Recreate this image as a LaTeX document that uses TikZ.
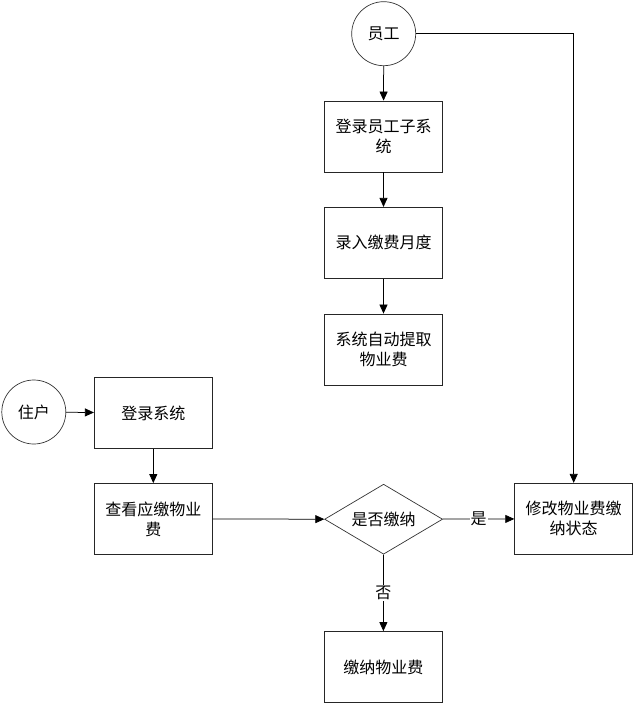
\documentclass[tikz,border=0pt]{standalone}
\usepackage{fontspec}
\newfontfamily\cjk{Noto Sans CJK SC}
\usetikzlibrary{arrows.meta,shapes.geometric}
\begin{document}
\begin{tikzpicture}[x=1pt,y=-1pt,
  every node/.style={font=\cjk\fontsize{16}{20}\selectfont, align=center, inner sep=0pt},
  procbox/.style={draw=black!85, line width=0.8pt, minimum width=118pt, minimum height=71pt},
  actor/.style={draw=black!80, line width=0.7pt, circle, minimum size=64pt},
  decision/.style={draw=black!80, line width=0.7pt, diamond, aspect=1.69, minimum width=118pt, minimum height=70pt},
  flow/.style={draw=black, line width=0.75pt, -{Triangle[length=9pt,width=8pt]}},
  lbl/.style={fill=white, inner sep=1pt}]
\useasboundingbox (0,0) rectangle (634,704);
\node[actor] (emp) at (383.7,33.7) {员工};
\node[procbox] (login1) at (383.5,136.5) {登录员工子系\\统};
\node[procbox] (month) at (383.5,242.8) {录入缴费月度};
\node[procbox] (auto) at (383.5,349.5) {系统自动提取\\物业费};
\node[actor] (res) at (33.8,412) {住户};
\node[procbox] (login2) at (153.3,413) {登录系统};
\node[procbox] (view) at (153.3,519) {查看应缴物业\\费};
\node[decision] (dec) at (383.6,519.2) {是否缴纳};
\node[procbox] (modify) at (573.7,518.8) {修改物业费缴\\纳状态};
\node[procbox] (pay) at (383.3,667) {缴纳物业费};
\coordinate (corner) at (573.7,33.7);
\draw[flow] (emp) -- (login1);
\draw[flow] (login1) -- (month);
\draw[flow] (month) -- (auto);
\draw[flow] (res) -- (login2);
\draw[flow] (login2) -- (view);
\draw[flow] (view) -- (dec);
\draw[flow] (dec) -- node[lbl] {是} (modify);
\draw[flow] (dec) -- node[lbl] {否} (pay);
\draw[flow] (emp.east) -- (corner) -- (modify.north);
\end{tikzpicture}
\end{document}
